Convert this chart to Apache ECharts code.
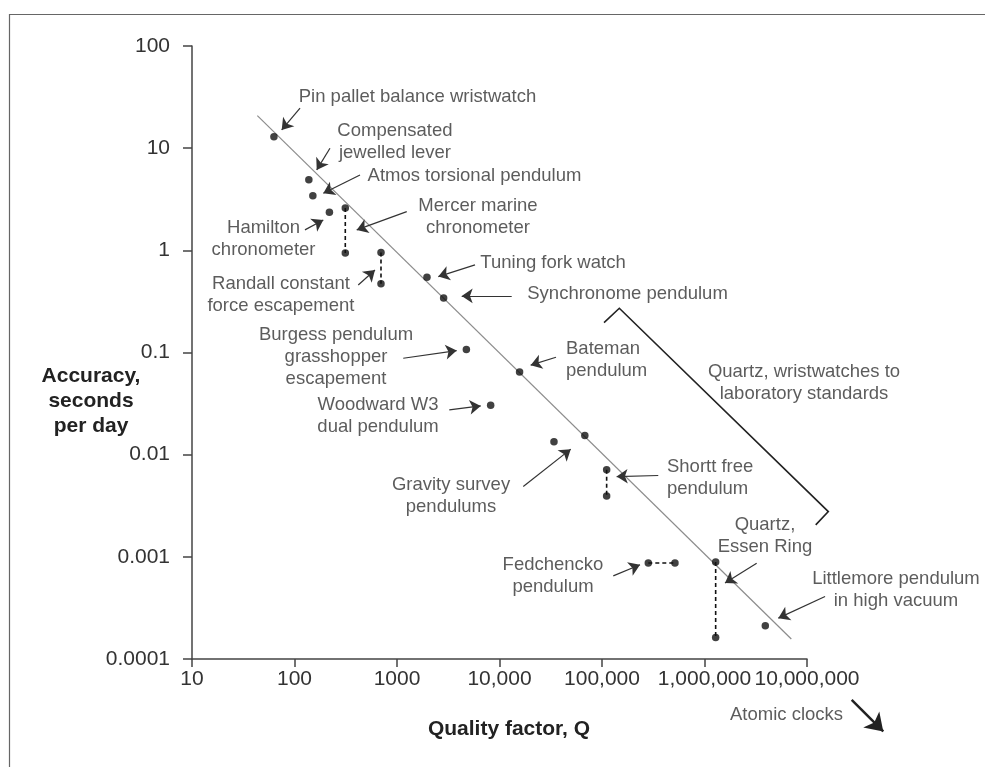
<!DOCTYPE html>
<html>
<head>
<meta charset="utf-8">
<script src="https://cdn.jsdelivr.net/npm/echarts@6/dist/echarts.min.js"></script>
<style>html,body{margin:0;padding:0;background:#fff}#c{width:985px;height:767px}</style>
</head>
<body>
<div id="c"></div>
<script>
// ---------- data ----------
const xTickLabels = ['10', '100', '1000', '10,000', '100,000', '1,000,000', '10,000,000'];
const yTickLabels = ['0.0001', '0.001', '0.01', '0.1', '1', '10', '100'];

// measured clocks: quality factor Q and accuracy (s/day)
const pointQ = [63, 138, 151, 219, 313, 313, 698, 698, 1960, 2850, 4750, 15700, 8200, 34000, 68000, 111000, 111000, 283000, 515000, 1285000, 1285000, 3920000];
const pointAccuracy = [12.9, 4.9, 3.43, 2.36, 2.6, 0.94, 0.95, 0.47, 0.546, 0.342, 0.107, 0.0646, 0.0305, 0.0134, 0.0154, 0.0071, 0.00395, 0.00087, 0.00087, 0.00089, 0.000162, 0.000211];
// index pairs joined by a dashed range line
const rangePairs = [[4, 5], [6, 7], [15, 16], [17, 18], [19, 20]];

// trend line end points
const trendQ = [43.4, 7030000];
const trendAccuracy = [20.8, 0.000157];

// quartz bracket (log10 Q, log10 accuracy)
const bracketLogQ = [5.020, 5.169, 7.208, 7.085];
const bracketLogAcc = [-0.707, -0.567, -2.557, -2.687];

// annotation texts and anchors (log10 Q, log10 accuracy)
const labelTexts = [
  'Pin pallet balance wristwatch', 'Compensated\njewelled lever', 'Atmos torsional pendulum',
  'Hamilton\nchronometer', 'Mercer marine\nchronometer', 'Randall constant\nforce escapement',
  'Tuning fork watch', 'Synchronome pendulum', 'Burgess pendulum\ngrasshopper\nescapement',
  'Bateman\npendulum', 'Woodward W3\ndual pendulum', 'Gravity survey\npendulums',
  'Shortt free\npendulum', 'Quartz, wristwatches to\nlaboratory standards', 'Quartz,\nEssen Ring',
  'Fedchencko\npendulum', 'Littlemore pendulum\nin high vacuum', 'Atomic clocks'
];
const labelLogQ = [3.200, 2.980, 3.756, 1.698, 3.790, 1.868, 4.522, 5.249, 2.405, 4.649, 2.815, 3.527, 5.634, 6.971, 6.590, 4.522, 7.868, 6.800];
const labelLogAcc = [1.501, 1.066, 0.728, 0.107, 0.332, -0.432, -0.123, -0.427, -1.043, -1.072, -1.620, -2.403, -2.227, -1.297, -2.795, -3.191, -3.320, -4.546];
const labelAlign = ['center', 'center', 'center', 'center', 'center', 'center', 'center', 'center', 'center', 'left', 'center', 'center', 'left', 'center', 'center', 'center', 'center', 'center'];

// annotation arrows: tail -> head (log10 Q, log10 accuracy)
const arrowTail = [[2.054, 1.393], [2.346, 0.999], [2.639, 0.738], [2.102, 0.200], [3.095, 0.379], [2.622, -0.339], [3.761, -0.143], [4.119, -0.446], [3.061, -1.056], [4.551, -1.046], [3.510, -1.562], [4.232, -2.312], [5.549, -2.204], [5.110, -3.186], [6.509, -3.062], [7.176, -3.388]];
const arrowHead = [[1.875, 1.178], [2.217, 0.787], [2.281, 0.559], [2.281, 0.297], [2.607, 0.200], [2.785, -0.192], [3.403, -0.257], [3.631, -0.446], [3.582, -0.981], [4.304, -1.124], [3.817, -1.523], [4.695, -1.946], [5.143, -2.214], [5.371, -3.078], [6.200, -3.257], [6.720, -3.600]];
const atomicArrow = [[7.436, -4.399], [7.744, -4.709]];

// ---------- build ----------
const P = v => Math.pow(10, v);
const toVal = p => [P(p[0]), P(p[1])];
const FONT = "'Liberation Sans', Arial, Helvetica, sans-serif";
const TXT = '#333';

const series = [];
series.push({
  type: 'line', data: trendQ.map((q, i) => [q, trendAccuracy[i]]), symbol: 'none', clip: false,
  lineStyle: { color: '#8c8c8c', width: 1.2 }, z: 1, silent: true
});
rangePairs.forEach(pr => {
  series.push({
    type: 'line', data: pr.map(i => [pointQ[i], pointAccuracy[i]]), symbol: 'none', clip: false,
    lineStyle: { color: '#111', width: 1.6, type: [4, 3] }, z: 2, silent: true
  });
});
series.push({
  type: 'scatter', data: pointQ.map((q, i) => [q, pointAccuracy[i]]), symbol: 'circle', symbolSize: 7.5,
  itemStyle: { color: '#111' }, z: 3, clip: false, silent: true
});
series.push({
  type: 'lines', coordinateSystem: 'cartesian2d', polyline: true, clip: false, silent: true, z: 2,
  symbol: 'none',
  lineStyle: { color: '#222', width: 1.6, opacity: 1 },
  data: [{ coords: bracketLogQ.map((q, i) => [P(q), P(bracketLogAcc[i])]) }]
});
series.push({
  type: 'lines', coordinateSystem: 'cartesian2d', clip: false, silent: true, z: 4,
  symbol: ['none', 'arrow'], symbolSize: 11,
  lineStyle: { color: '#333', width: 1.2, opacity: 1, curveness: 0 },
  data: arrowTail.map((t, i) => ({ coords: [toVal(t), toVal(arrowHead[i])] }))
});
series.push({
  type: 'lines', coordinateSystem: 'cartesian2d', clip: false, silent: true, z: 4,
  symbol: ['none', 'arrow'], symbolSize: 17,
  lineStyle: { color: '#222', width: 2.5, opacity: 1, curveness: 0 },
  data: [{ coords: [toVal(atomicArrow[0]), toVal(atomicArrow[1])] }]
});
series.push({
  type: 'scatter', clip: false, silent: true, z: 5, symbolSize: 1,
  itemStyle: { color: 'rgba(0,0,0,0)' },
  label: {
    show: true, position: 'inside', formatter: '{b}', color: TXT,
    fontFamily: FONT, fontSize: 18.5, lineHeight: 22
  },
  data: labelTexts.map((t, i) => ({
    name: t, value: [P(labelLogQ[i]), P(labelLogAcc[i])],
    label: { align: labelAlign[i] }
  }))
});

const chart = echarts.init(document.getElementById('c'), null, { renderer: 'canvas' });
chart.setOption({
  animation: false,
  backgroundColor: '#fff',
  grid: { left: 192, right: 178, top: 46, bottom: 108, containLabel: false },
  xAxis: {
    type: 'log', logBase: 10, min: 10, max: 10000000,
    splitLine: { show: false },
    axisLine: { lineStyle: { color: '#444', width: 1.5 } },
    axisTick: { show: true, length: 8, lineStyle: { color: '#444', width: 1.5 } },
    minorTick: { show: false },
    axisLabel: {
      margin: 10, color: TXT, fontFamily: FONT, fontSize: 21,
      formatter: v => xTickLabels[Math.round(Math.log10(v)) - 1]
    }
  },
  yAxis: {
    type: 'log', logBase: 10, min: 0.0001, max: 100,
    splitLine: { show: false },
    axisLine: { lineStyle: { color: '#444', width: 1.5 } },
    axisTick: { show: true, length: 9, lineStyle: { color: '#444', width: 1.5 } },
    axisLabel: {
      margin: 22, color: TXT, fontFamily: FONT, fontSize: 21,
      formatter: v => yTickLabels[Math.round(Math.log10(v)) + 4]
    }
  },
  graphic: [
    { type: 'rect', left: 7, top: 12, shape: { width: 1000, height: 800 }, style: { fill: 'none', stroke: '#666', lineWidth: 1.2 }, silent: true, z: -10 },
    { type: 'text', x: 91, y: 401, style: { text: 'Accuracy,\nseconds\nper day', fontFamily: FONT, fontWeight: 'bold', fontSize: 21, lineHeight: 25, fill: '#222', align: 'center', verticalAlign: 'middle' } },
    { type: 'text', x: 509, y: 729, style: { text: 'Quality factor, Q', fontFamily: FONT, fontWeight: 'bold', fontSize: 21, fill: '#222', align: 'center', verticalAlign: 'middle' } }
  ],
  series: series
});
</script>
</body>
</html>
